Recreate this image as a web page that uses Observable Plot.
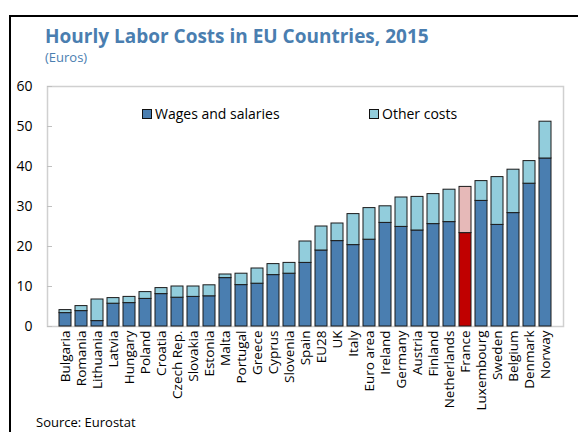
<!DOCTYPE html>
<html>
<head>
<meta charset="utf-8">
<script src="https://cdn.jsdelivr.net/npm/d3@7"></script>
<script src="https://cdn.jsdelivr.net/npm/@observablehq/plot@0.6"></script>
<style>
  html, body { margin: 0; padding: 0; background: #fff; }
  #wrap { position: relative; width: 578px; height: 432px; overflow: hidden; font-family: "Open Sans", sans-serif; }
  #frame { position: absolute; left: 9px; top: 15px; width: 580px; height: 430px; border-top: 2px solid #000; border-left: 2px solid #000; }
  #title { position: absolute; left: 45px; top: 26.5px; line-height: 1; font-size: 19px; font-weight: bold; color: #4a7eb0; white-space: nowrap; }
  #subtitle { position: absolute; left: 45px; top: 50.5px; line-height: 1; font-size: 13px; color: #4a7eb0; }
  .leg { position: absolute; top: 104px; font-size: 14px; color: #000; white-space: nowrap; }
  .sw { display: inline-block; width: 8px; height: 8px; border: 1px solid #111; vertical-align: 0px; margin-right: 3px; }
  #source { position: absolute; left: 36px; top: 416px; line-height: 1; font-size: 13px; color: #000; }
  svg { position: absolute; left: 0; top: 0; }
</style>
</head>
<body>
<div id="wrap">
  <div id="chart"></div>
  <div id="frame"></div>
  <div id="title">Hourly Labor Costs in EU Countries, 2015</div>
  <div id="subtitle">(Euros)</div>
  <div class="leg" style="left:142px"><span class="sw" style="background:#4a7eb0"></span>Wages and salaries</div>
  <div class="leg" style="left:369px"><span class="sw" style="background:#92cddc"></span>Other costs</div>
  <div id="source">Source: Eurostat</div>
</div>
<script>
const countries = ["Bulgaria","Romania","Lithuania","Latvia","Hungary","Poland","Croatia","Czech Rep.","Slovakia","Estonia","Malta","Portugal","Greece","Cyprus","Slovenia","Spain","EU28","UK","Italy","Euro area","Ireland","Germany","Austria","Finland","Netherlands","France","Luxembourg","Sweden","Belgium","Denmark","Norway"];
const wages = [3.35,3.85,1.35,5.7,5.85,6.9,8.1,7.2,7.4,7.55,12.1,10.35,10.7,12.85,13.2,15.9,19.0,21.35,20.35,21.7,25.9,24.9,24.0,25.6,26.1,23.35,31.4,25.4,28.35,35.7,42.0];
const otherCosts = [0.75,1.25,5.4,1.4,1.55,1.7,1.5,2.8,2.6,2.75,0.9,2.85,3.8,2.75,2.7,5.35,6.0,4.4,7.75,7.9,4.15,7.35,8.4,7.5,8.1,11.55,4.95,11.95,10.85,5.65,9.2];
const yTicks = [0,10,20,30,40,50,60];
const highlight = "France";

const rows = [];
countries.forEach((c, i) => {
  rows.push({country: c, series: "Wages and salaries", value: wages[i]});
  rows.push({country: c, series: "Other costs", value: otherCosts[i]});
});
const fillOf = d => d.country === highlight
  ? (d.series === "Wages and salaries" ? "#c00000" : "#e6b9b8")
  : (d.series === "Wages and salaries" ? "#4a7eb0" : "#92cddc");

const chart = Plot.plot({
  width: 578,
  height: 432,
  marginLeft: 47,
  marginRight: 15,
  marginTop: 86,
  marginBottom: 106,
  style: {fontFamily: "Open Sans, sans-serif", fontSize: "14px", color: "#000", background: "transparent"},
  x: {domain: countries, padding: 0.22, label: null},
  y: {domain: [0, 60], ticks: yTicks, label: null},
  color: {type: "identity"},
  marks: [
    Plot.frame({stroke: "#d0d0d0", strokeWidth: 1.5}),
    Plot.barY(rows, {x: "country", y: "value", z: "series", fill: fillOf, stroke: "#1a1a1a", strokeWidth: 1}),
    Plot.axisY({ticks: yTicks, tickSize: -5, tickPadding: 20, stroke: "#c0c0c0", fontSize: 14, label: null}),
    Plot.axisX({tickRotate: -90, tickSize: 0, tickPadding: 4, fontSize: 13.5, label: null})
  ]
});
document.getElementById("chart").appendChild(chart);
</script>
</body>
</html>
